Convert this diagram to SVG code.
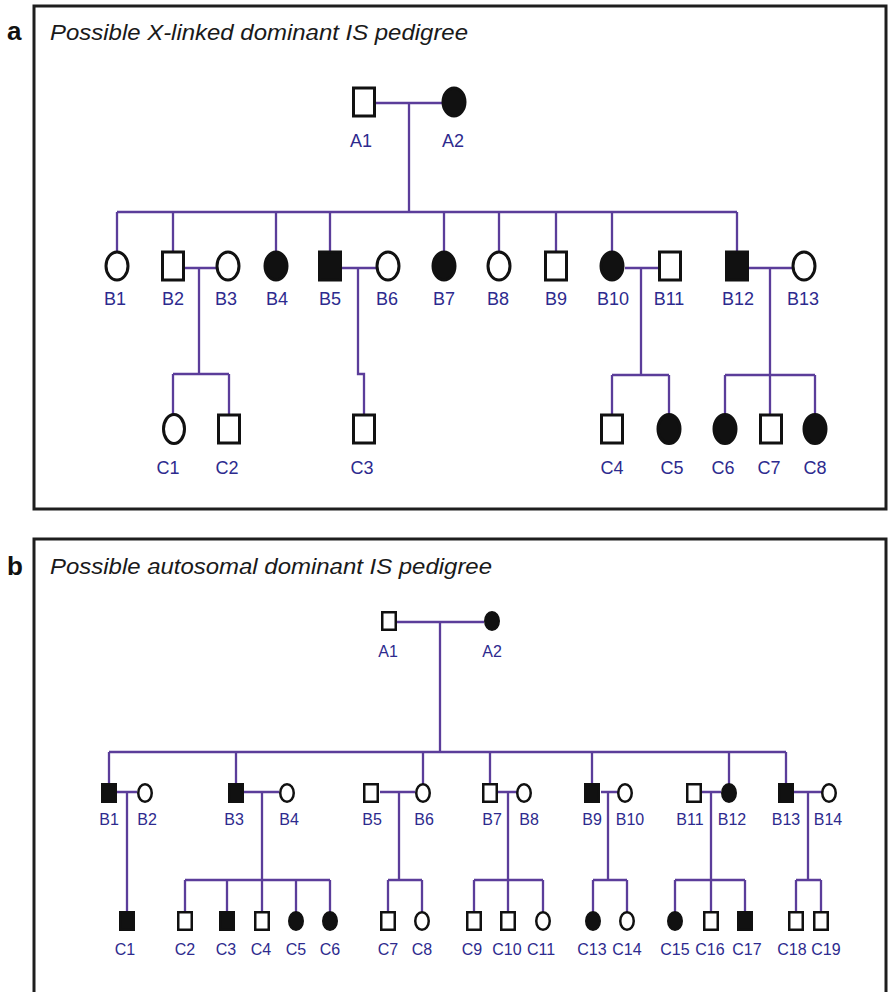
<svg xmlns="http://www.w3.org/2000/svg" width="889" height="992" viewBox="0 0 889 992">
<style>
.frame{fill:none;stroke:#1e1e1e;stroke-width:3}
.m{fill:#fff;stroke:#111;stroke-width:3}
.f{fill:#111;stroke:#111;stroke-width:3}
.ms{fill:#fff;stroke:#111;stroke-width:2.5}
.fs{fill:#111;stroke:#111;stroke-width:2.5}
.ln{fill:none;stroke:#5b3d9a;stroke-width:2.3}
.lab{font-family:"Liberation Sans",Arial,sans-serif;font-size:18px;fill:#2d2a8e;text-anchor:middle}
.labs{font-family:"Liberation Sans",Arial,sans-serif;font-size:16px;fill:#2d2a8e;text-anchor:middle}
.title{font-family:"Liberation Sans",Arial,sans-serif;font-size:21.5px;font-style:italic;fill:#1a1a1a}
.pl{font-family:"Liberation Sans",Arial,sans-serif;font-size:26px;font-weight:bold;fill:#111}
</style>
<rect width="889" height="992" fill="#fff"/>
<rect class="frame" x="34" y="6" width="852" height="503"/>
<rect class="frame" x="34" y="539" width="852" height="470"/>
<text class="pl" x="7" y="40">a</text>
<text class="pl" x="7" y="575">b</text>
<text class="title" x="50" y="40" textLength="418" lengthAdjust="spacingAndGlyphs">Possible X-linked dominant IS pedigree</text>
<text class="title" x="50" y="574" textLength="442" lengthAdjust="spacingAndGlyphs">Possible autosomal dominant IS pedigree</text>

<g id="connectors">
<!-- panel a -->
<path class="ln" d="M376,103H442M409,103V212M117,212H737"/>
<path class="ln" d="M117,212V251M173,212V251M276,212V251M330,212V251M444,212V251M499,212V251M556,212V251M612,212V251M737,212V251"/>
<path class="ln" d="M185,268H216M199,268V374M173,374H229M173,374V414M229,374V414"/>
<path class="ln" d="M342,268H376M358,268V374H364V414"/>
<path class="ln" d="M625,268H658M641,268V375M612,375H669M612,375V414M669,375V414"/>
<path class="ln" d="M748,268H792M770,268V414M725,375H815M725,375V414M815,375V414"/>
<!-- panel b -->
<path class="ln" d="M397,622H484M440,622V752M109,752H786"/>
<path class="ln" d="M109,752V784M236,752V784M423,752V784M490,752V784M592,752V784M729,752V784M786,752V784"/>
<path class="ln" d="M117,792H137M127,792V912"/>
<path class="ln" d="M244,792H279M262,792V880M185,880H330M185,880V912M227,880V912M262,880V912M296,880V912M330,880V912"/>
<path class="ln" d="M380,792H415M399,792V880M388,880H422M388,880V912M422,880V912"/>
<path class="ln" d="M497,792H517M508,792V880M474,880H543M474,880V912M508,880V912M543,880V912"/>
<path class="ln" d="M601,792H618M608,792V880M593,880H627M593,880V912M627,880V912"/>
<path class="ln" d="M702,792H721M711,792V880M675,880H745M675,880V912M711,880V912M745,880V912"/>
<path class="ln" d="M794,792H822M808,792V880M796,880H821M796,880V912M821,880V912"/>
</g>

<!-- Panel a nodes -->
<g id="a-A1"><rect class="m" x="353.5" y="88" width="21" height="28"/><text class="lab" x="361" y="147">A1</text></g>
<g id="a-A2"><ellipse class="f" cx="454" cy="102" rx="11" ry="14"/><text class="lab" x="453" y="147">A2</text></g>

<g id="a-B1"><ellipse class="m" cx="117" cy="266" rx="11" ry="14"/><text class="lab" x="115" y="305">B1</text></g>
<g id="a-B2"><rect class="m" x="162.5" y="252" width="21" height="28"/><text class="lab" x="173" y="305">B2</text></g>
<g id="a-B3"><ellipse class="m" cx="228" cy="266" rx="11" ry="14"/><text class="lab" x="226" y="305">B3</text></g>
<g id="a-B4"><ellipse class="f" cx="276" cy="266" rx="11" ry="14"/><text class="lab" x="277" y="305">B4</text></g>
<g id="a-B5"><rect class="f" x="319.5" y="252" width="21" height="28"/><text class="lab" x="330" y="305">B5</text></g>
<g id="a-B6"><ellipse class="m" cx="388" cy="266" rx="11" ry="14"/><text class="lab" x="387" y="305">B6</text></g>
<g id="a-B7"><ellipse class="f" cx="444" cy="266" rx="11" ry="14"/><text class="lab" x="444" y="305">B7</text></g>
<g id="a-B8"><ellipse class="m" cx="499" cy="266" rx="11" ry="14"/><text class="lab" x="498" y="305">B8</text></g>
<g id="a-B9"><rect class="m" x="545.5" y="252" width="21" height="28"/><text class="lab" x="556" y="305">B9</text></g>
<g id="a-B10"><ellipse class="f" cx="612" cy="266" rx="11" ry="14"/><text class="lab" x="613" y="305">B10</text></g>
<g id="a-B11"><rect class="m" x="659.5" y="252" width="21" height="28"/><text class="lab" x="669" y="305">B11</text></g>
<g id="a-B12"><rect class="f" x="726.5" y="252" width="21" height="28"/><text class="lab" x="738" y="305">B12</text></g>
<g id="a-B13"><ellipse class="m" cx="804" cy="266" rx="11" ry="14"/><text class="lab" x="803" y="305">B13</text></g>

<g id="a-C1"><ellipse class="m" cx="174" cy="429" rx="10.5" ry="14.5"/><text class="lab" x="168" y="474">C1</text></g>
<g id="a-C2"><rect class="m" x="218.5" y="415" width="21" height="28"/><text class="lab" x="227" y="474">C2</text></g>
<g id="a-C3"><rect class="m" x="353.5" y="415" width="21" height="28"/><text class="lab" x="362" y="474">C3</text></g>
<g id="a-C4"><rect class="m" x="601.5" y="415" width="21" height="28"/><text class="lab" x="612" y="474">C4</text></g>
<g id="a-C5"><ellipse class="f" cx="669" cy="429" rx="11" ry="14.5"/><text class="lab" x="672" y="474">C5</text></g>
<g id="a-C6"><ellipse class="f" cx="725" cy="429" rx="11" ry="14.5"/><text class="lab" x="723" y="474">C6</text></g>
<g id="a-C7"><rect class="m" x="760.5" y="415" width="21" height="28"/><text class="lab" x="769" y="474">C7</text></g>
<g id="a-C8"><ellipse class="f" cx="815" cy="429" rx="11" ry="14.5"/><text class="lab" x="815" y="474">C8</text></g>

<!-- Panel b nodes -->
<g id="b-A1"><rect class="ms" x="382.25" y="612.25" width="13.5" height="17.5"/><text class="labs" x="388" y="657">A1</text></g>
<g id="b-A2"><ellipse class="fs" cx="492" cy="621" rx="6.75" ry="8.75"/><text class="labs" x="492" y="657">A2</text></g>

<g id="b-B1"><rect class="fs" x="102.25" y="784.25" width="13.5" height="17.5"/><text class="labs" x="109" y="825">B1</text></g>
<g id="b-B2"><ellipse class="ms" cx="145" cy="793" rx="6.75" ry="8.75"/><text class="labs" x="147" y="825">B2</text></g>
<g id="b-B3"><rect class="fs" x="229.25" y="784.25" width="13.5" height="17.5"/><text class="labs" x="234" y="825">B3</text></g>
<g id="b-B4"><ellipse class="ms" cx="287" cy="793" rx="6.75" ry="8.75"/><text class="labs" x="289" y="825">B4</text></g>
<g id="b-B5"><rect class="ms" x="364.25" y="784.25" width="13.5" height="17.5"/><text class="labs" x="372" y="825">B5</text></g>
<g id="b-B6"><ellipse class="ms" cx="423" cy="793" rx="6.75" ry="8.75"/><text class="labs" x="424" y="825">B6</text></g>
<g id="b-B7"><rect class="ms" x="483.25" y="784.25" width="13.5" height="17.5"/><text class="labs" x="492" y="825">B7</text></g>
<g id="b-B8"><ellipse class="ms" cx="524" cy="793" rx="6.75" ry="8.75"/><text class="labs" x="529" y="825">B8</text></g>
<g id="b-B9"><rect class="fs" x="585.25" y="784.25" width="13.5" height="17.5"/><text class="labs" x="592" y="825">B9</text></g>
<g id="b-B10"><ellipse class="ms" cx="625" cy="793" rx="6.75" ry="8.75"/><text class="labs" x="630" y="825">B10</text></g>
<g id="b-B11"><rect class="ms" x="687.25" y="784.25" width="13.5" height="17.5"/><text class="labs" x="690" y="825">B11</text></g>
<g id="b-B12"><ellipse class="fs" cx="729" cy="793" rx="6.75" ry="8.75"/><text class="labs" x="732" y="825">B12</text></g>
<g id="b-B13"><rect class="fs" x="779.25" y="784.25" width="13.5" height="17.5"/><text class="labs" x="786" y="825">B13</text></g>
<g id="b-B14"><ellipse class="ms" cx="829" cy="793" rx="6.75" ry="8.75"/><text class="labs" x="828" y="825">B14</text></g>

<g id="b-C1"><rect class="fs" x="120.25" y="912.25" width="13.5" height="17.5"/><text class="labs" x="125" y="955">C1</text></g>
<g id="b-C2"><rect class="ms" x="178.25" y="912.25" width="13.5" height="17.5"/><text class="labs" x="185" y="955">C2</text></g>
<g id="b-C3"><rect class="fs" x="220.25" y="912.25" width="13.5" height="17.5"/><text class="labs" x="226" y="955">C3</text></g>
<g id="b-C4"><rect class="ms" x="255.25" y="912.25" width="13.5" height="17.5"/><text class="labs" x="261" y="955">C4</text></g>
<g id="b-C5"><ellipse class="fs" cx="296" cy="921" rx="6.75" ry="8.75"/><text class="labs" x="296" y="955">C5</text></g>
<g id="b-C6"><ellipse class="fs" cx="330" cy="921" rx="6.75" ry="8.75"/><text class="labs" x="330" y="955">C6</text></g>
<g id="b-C7"><rect class="ms" x="381.25" y="912.25" width="13.5" height="17.5"/><text class="labs" x="388" y="955">C7</text></g>
<g id="b-C8"><ellipse class="ms" cx="422" cy="921" rx="6.75" ry="8.75"/><text class="labs" x="422" y="955">C8</text></g>
<g id="b-C9"><rect class="ms" x="467.25" y="912.25" width="13.5" height="17.5"/><text class="labs" x="472" y="955">C9</text></g>
<g id="b-C10"><rect class="ms" x="501.25" y="912.25" width="13.5" height="17.5"/><text class="labs" x="507" y="955">C10</text></g>
<g id="b-C11"><ellipse class="ms" cx="543" cy="921" rx="6.75" ry="8.75"/><text class="labs" x="541" y="955">C11</text></g>
<g id="b-C13"><ellipse class="fs" cx="593" cy="921" rx="6.75" ry="8.75"/><text class="labs" x="592" y="955">C13</text></g>
<g id="b-C14"><ellipse class="ms" cx="627" cy="921" rx="6.75" ry="8.75"/><text class="labs" x="627" y="955">C14</text></g>
<g id="b-C15"><ellipse class="fs" cx="675" cy="921" rx="6.75" ry="8.75"/><text class="labs" x="675" y="955">C15</text></g>
<g id="b-C16"><rect class="ms" x="704.25" y="912.25" width="13.5" height="17.5"/><text class="labs" x="710" y="955">C16</text></g>
<g id="b-C17"><rect class="fs" x="738.25" y="912.25" width="13.5" height="17.5"/><text class="labs" x="747" y="955">C17</text></g>
<g id="b-C18"><rect class="ms" x="789.25" y="912.25" width="13.5" height="17.5"/><text class="labs" x="792" y="955">C18</text></g>
<g id="b-C19"><rect class="ms" x="814.25" y="912.25" width="13.5" height="17.5"/><text class="labs" x="826" y="955">C19</text></g>
</svg>
